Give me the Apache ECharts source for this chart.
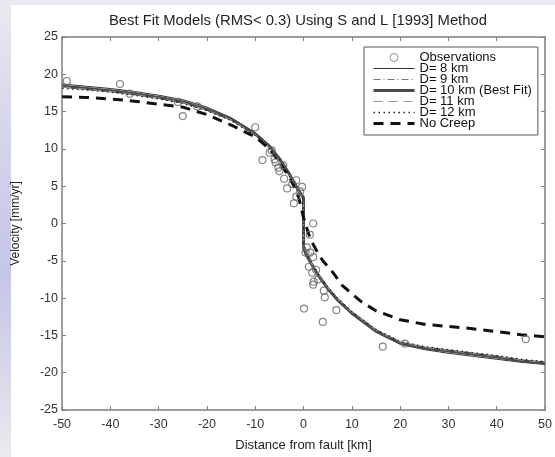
<!DOCTYPE html>
<html lang="en">
<head>
	<meta charset="UTF-8">
	<title>best fit models</title>
	<script src="https://cdn.jsdelivr.net/npm/echarts@6/dist/echarts.min.js"></script>
	<style>
		html, body { margin: 0; padding: 0; }
		.wrap {
			position: relative;
			width: 555px;
			height: 457px;
			background: linear-gradient(to bottom, #ebe8f0 0%, #d4d5ea 30%, #c3c7e6 60%, #dcdbea 85%, #ece9ef 100%);
		}
		.paper {
			position: absolute;
			left: 11px;
			top: 5px;
			width: 544px;
			height: 452px;
			background: #fff;
		}
		.box {
			position: absolute;
			left: 0;
			top: 0;
			width: 555px;
			height: 457px;
		}
	</style>
</head>
<body>
	<div class="wrap">
		<div class="paper"></div>
		<div class="box"></div>
	</div>

	<script>
		let chart = echarts.init(document.getElementsByClassName('box')[0]);

		// model profiles (distance in km, velocity in mm/yr)
		let xModel = [-50, -45, -40, -35, -30, -25, -20, -15, -10, -7, -5, -3, -2, -1, -0.5, -0.01,
			0.01, 0.5, 1, 2, 3, 5, 7, 10, 15, 20, 25, 30, 35, 40, 45, 50];
		let d8 = [18.7, 18.4, 18.1, 17.7, 17.2, 16.6, 15.6, 14.2, 12.2, 10.5, 8.9, 6.9, 5.7, 4.6, 4.1, 3.6,
			-3.2, -4.1, -4.8, -6.0, -7.1, -8.9, -10.4, -12.2, -14.6, -16.2, -16.9, -17.4, -17.8, -18.2, -18.6, -18.9];
		let d9 = [18.5, 18.2, 17.9, 17.5, 17.0, 16.4, 15.4, 14.1, 12.1, 10.4, 8.8, 6.8, 5.6, 4.5, 4.0, 3.5,
			-3.1, -4.0, -4.7, -5.9, -7.0, -8.8, -10.3, -12.1, -14.5, -16.1, -16.8, -17.2, -17.6, -18.0, -18.5, -18.8];
		let d10 = [18.4, 18.1, 17.8, 17.4, 16.9, 16.3, 15.3, 14.0, 12.0, 10.3, 8.7, 6.7, 5.5, 4.4, 3.9, 3.5,
			-3.3, -4.1, -4.7, -5.8, -6.9, -8.7, -10.2, -12.0, -14.4, -16.0, -16.7, -17.1, -17.5, -17.9, -18.4, -18.7];
		let d11 = [18.3, 18.0, 17.7, 17.3, 16.8, 16.2, 15.2, 13.9, 11.9, 10.2, 8.6, 6.6, 5.4, 4.3, 3.8, 3.3,
			-2.9, -3.8, -4.5, -5.7, -6.8, -8.6, -10.1, -11.9, -14.3, -15.9, -16.6, -17.0, -17.4, -17.8, -18.3, -18.6];
		let d12 = [18.1, 17.9, 17.6, 17.2, 16.7, 16.1, 15.1, 13.8, 11.8, 10.1, 8.5, 6.5, 5.3, 4.2, 3.7, 3.2,
			-2.8, -3.7, -4.4, -5.6, -6.7, -8.5, -10.0, -11.8, -14.2, -15.8, -16.5, -16.9, -17.3, -17.7, -18.2, -18.5];

		let xNoCreep = [-50, -45, -40, -35, -30, -25, -20, -15, -10, -7, -5, -3, -2, -1, 0, 1, 2, 3, 4, 6, 8, 10, 12, 15, 20, 25, 30, 35, 40, 45, 50];
		let noCreep = [17.0, 16.9, 16.7, 16.4, 16.0, 15.6, 14.6, 13.2, 11.6, 10.0, 8.2, 6.3, 5.0, 3.5, 0.8, -1.3, -2.8, -4.0, -5.0, -6.5, -8.3, -9.4, -10.5, -11.7, -12.9, -13.5, -13.8, -14.1, -14.5, -14.9, -15.2];

		// GPS observations
		let obsX = [-49, -38, -36, -26, -25, -22, -10, -8.5, -7, -6.6, -6, -5.8, -5.2, -5.0, -4.2, -4.0, -3.4, -2.3, -2.0,
			-1.5, -1.5, -0.7, -0.3, 0.1, 0.4, 0.7, 1.1, 1.3, 1.4, 1.8, 2.0, 2.0, 2.0, 2.1, 2.6, 3.0, 4.0, 4.2, 4.4, 6.8, 16.4, 21, 46];
		let obsV = [19.1, 18.7, 17.4, 16.3, 14.4, 15.7, 12.9, 8.5, 9.5, 9.8, 8.6, 8.2, 7.5, 7.0, 7.8, 6.0, 4.7, 5.3, 2.7,
			5.8, 3.6, 4.3, 4.9, -11.4, -3.9, -3.2, -5.8, -1.5, -3.9, -6.6, 0.0, -4.5, -8.2, -7.8, -6.2, -7.5, -13.2, -9.0, -9.9, -11.6, -16.5, -16.1, -15.5];

		let xTicks = [-50, -40, -30, -20, -10, 0, 10, 20, 30, 40, 50];
		let yTicks = [-25, -20, -15, -10, -5, 0, 5, 10, 15, 20, 25];

		let pair = (xs, ys) => xs.map((x, i) => [x, ys[i]]);
		let font = 'Liberation Sans, Arial, sans-serif';
		let axisColor = '#7f7f7f';
		let noDot = { opacity: 0 };

		let xBase = {
			type: 'value', min: xTicks[0], max: xTicks[xTicks.length - 1], interval: 10,
			splitLine: { show: false },
			axisLine: { show: true, onZero: false, lineStyle: { color: axisColor, width: 1.5 } },
			axisTick: { show: true, inside: true, length: 4, lineStyle: { color: axisColor } }
		};
		let yBase = {
			type: 'value', min: yTicks[0], max: yTicks[yTicks.length - 1], interval: 5,
			splitLine: { show: false },
			axisLine: { show: true, onZero: false, lineStyle: { color: axisColor, width: 1.5 } },
			axisTick: { show: true, inside: true, length: 4, lineStyle: { color: axisColor } }
		};

		let options = {
			animation: false,
			title: {
				text: 'Best Fit Models (RMS< 0.3) Using S and L [1993] Method',
				left: 104,
				top: 8,
				textStyle: { fontFamily: font, fontSize: 14.8, fontWeight: 'normal', color: '#222' }
			},
			grid: { left: 62, right: 4, top: 37, bottom: 39 },
			legend: {
				orient: 'vertical',
				left: 364,
				top: 47,
				padding: [4, 6, 5, 8],
				itemGap: -2,
				itemWidth: 41,
				itemHeight: 8,
				borderColor: '#555',
				borderWidth: 1,
				backgroundColor: '#fff',
				lineStyle: { width: 'inherit', type: 'inherit' },
				textStyle: { fontFamily: font, fontSize: 13, color: '#111' },
				data: [
					{ name: 'Observations', itemStyle: { borderWidth: 1, borderColor: '#777' } },
					{ name: 'D= 8 km', itemStyle: noDot },
					{ name: 'D= 9 km', itemStyle: noDot },
					{ name: 'D= 10 km (Best Fit)', itemStyle: noDot },
					{ name: 'D= 11 km', itemStyle: noDot },
					{ name: 'D= 12 km', itemStyle: noDot },
					{ name: 'No Creep', itemStyle: noDot }
				]
			},
			xAxis: [
				Object.assign({}, xBase, {
					position: 'bottom',
					name: 'Distance from fault [km]',
					nameLocation: 'middle',
					nameGap: 29,
					nameTextStyle: { fontFamily: font, fontSize: 13, color: '#222' },
					axisLabel: { fontFamily: font, fontSize: 12.5, color: '#333', margin: 8 }
				}),
				Object.assign({}, xBase, { position: 'top', axisLabel: { show: false } })
			],
			yAxis: [
				Object.assign({}, yBase, {
					position: 'left',
					name: 'Velocity [mm/yr]',
					nameLocation: 'middle',
					nameGap: 40,
					nameTextStyle: { fontFamily: font, fontSize: 12, color: '#222' },
					axisLabel: { fontFamily: font, fontSize: 12.5, color: '#333', margin: 4 }
				}),
				Object.assign({}, yBase, { position: 'right', axisLabel: { show: false } })
			],
			series: [
				{
					name: 'D= 8 km', type: 'line', symbol: 'none', data: pair(xModel, d8),
					lineStyle: { color: '#333', width: 1 }, itemStyle: { color: '#333' }
				},
				{
					name: 'D= 9 km', type: 'line', symbol: 'none', data: pair(xModel, d9),
					lineStyle: { color: '#777', width: 1, type: [7, 3, 1, 3] }, itemStyle: { color: '#777' }
				},
				{
					name: 'D= 10 km (Best Fit)', type: 'line', symbol: 'none', data: pair(xModel, d10),
					lineStyle: { color: '#4a4a4a', width: 3 }, itemStyle: { color: '#4a4a4a' }
				},
				{
					name: 'D= 11 km', type: 'line', symbol: 'none', data: pair(xModel, d11),
					lineStyle: { color: '#999', width: 1, type: [9, 6] }, itemStyle: { color: '#999' }
				},
				{
					name: 'D= 12 km', type: 'line', symbol: 'none', data: pair(xModel, d12),
					lineStyle: { color: '#222', width: 1.3, type: [1.5, 3.5] }, itemStyle: { color: '#222' }
				},
				{
					name: 'No Creep', type: 'line', symbol: 'none', data: pair(xNoCreep, noCreep),
					lineStyle: { color: '#111', width: 3, type: [10, 7] }, itemStyle: { color: '#111' }
				},
				{
					name: 'Observations', type: 'scatter', symbol: 'circle', symbolSize: 7,
					data: pair(obsX, obsV), z: 5,
					itemStyle: { color: 'rgba(255,255,255,0)', borderColor: '#666', borderWidth: 1.2 }
				}
			]
		};
		chart.setOption(options);
	</script>
</body>
</html>
